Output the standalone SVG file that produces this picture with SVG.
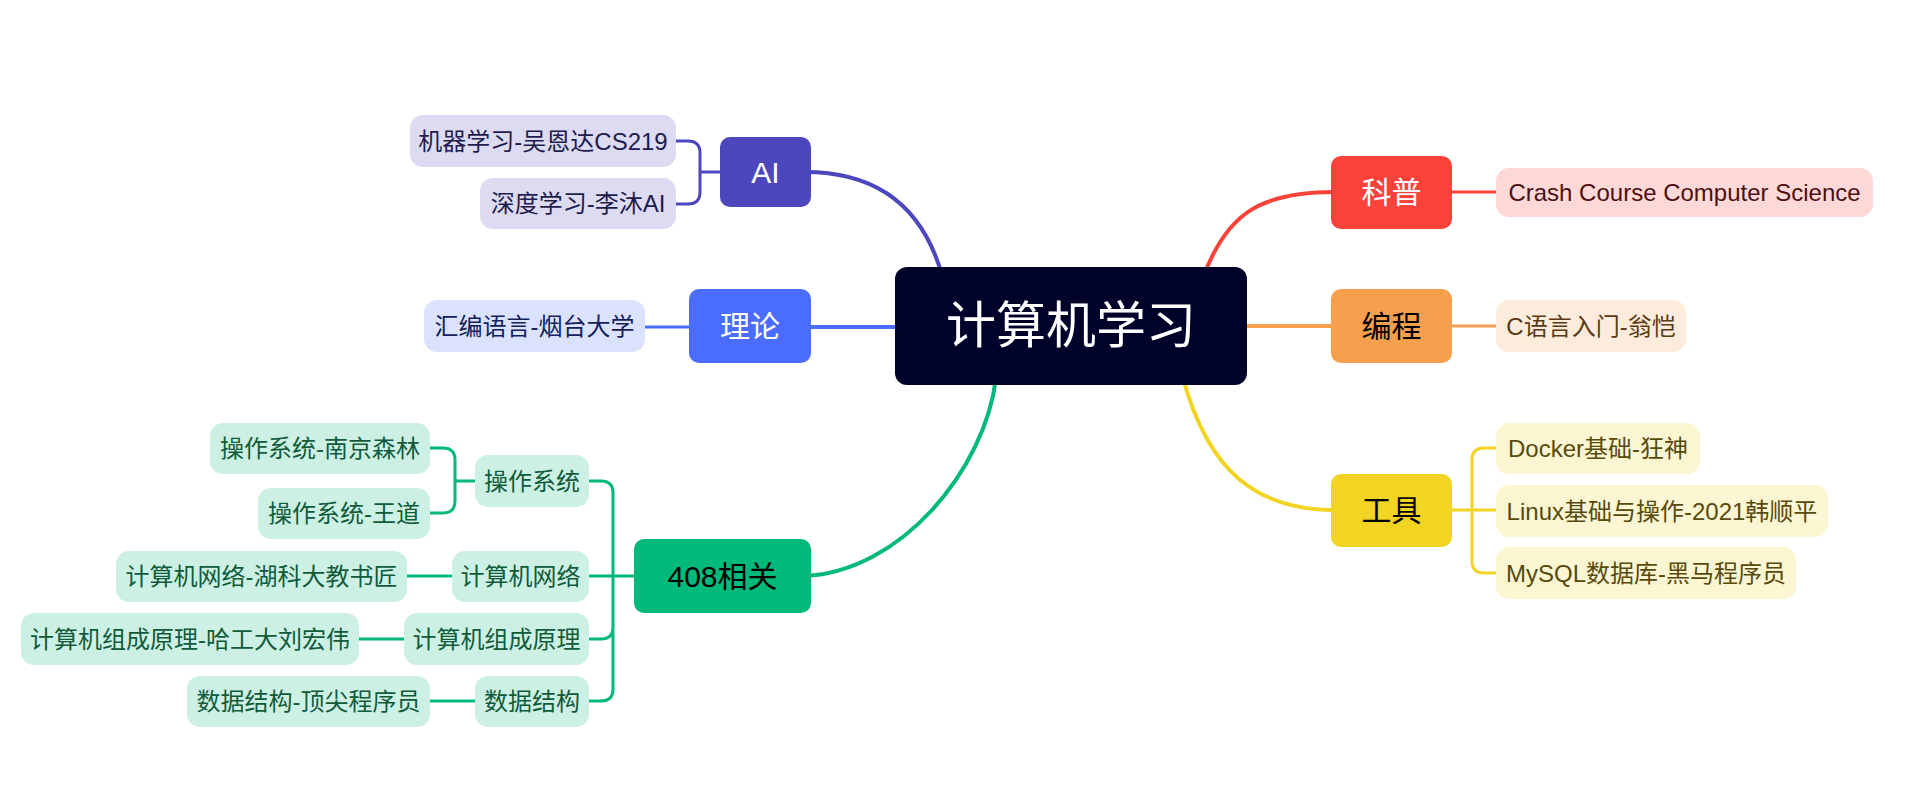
<svg xmlns="http://www.w3.org/2000/svg" width="1931" height="792" viewBox="0 0 1931 792">
<style>
text{font-family:"Liberation Sans","Noto Sans CJK SC",sans-serif;text-anchor:middle;dominant-baseline:central}
.main{font-size:30px}
.sub{font-size:24px}
.c{fill:none;stroke-width:4;stroke-linecap:round}
.s{fill:none;stroke-width:3}
</style>
<rect width="1931" height="792" fill="#ffffff"/>
<g id="connectors">
<path class="c" stroke="#4D47BE" d="M805,172 C875,172 922,205 942,275"/>
<path class="c" stroke="#4A6CFF" d="M805,327 H900"/>
<path class="c" stroke="#F9423A" d="M1204,275 C1228,212 1262,192 1335,192"/>
<path class="c" stroke="#F6A04D" d="M1240,326 H1335"/>
<path class="c" stroke="#F2D422" d="M1183,378 C1208,470 1255,510 1335,510"/>
<path class="c" stroke="#00B97A" d="M805,576 C900,572 985,470 996,378"/>
<path class="s" stroke="#4D47BE" d="M676,141 H688 Q700,141 700,153 V192 Q700,204 688,204 H676 M700,172 H720"/>
<path class="s" stroke="#4A6CFF" d="M645,327 H689"/>
<path class="s" stroke="#F9423A" d="M1452,192 H1496"/>
<path class="s" stroke="#F6A04D" d="M1452,326 H1496"/>
<path class="s" stroke="#F2D422" d="M1496,448 H1484 Q1472,448 1472,460 V561 Q1472,573 1484,573 H1496 M1452,510 H1496"/>
<path class="s" stroke="#00B97A" d="M589,481 H601 Q613,481 613,493 V689 Q613,701 601,701 H589 M589,639 H601 Q613,639 613,627 M589,576 H634"/>
<path class="s" stroke="#00B97A" d="M430,448 H443 Q455,448 455,460 V501 Q455,513 443,513 H430 M455,481 H475"/>
<path class="s" stroke="#00B97A" d="M407,576 H452 M359,639 H404 M430,701 H475"/>
</g>
<g id="root"><rect x="895" y="267" width="352" height="118" rx="12" fill="#00022A"/><text x="1071" y="326" font-size="50" fill="#ffffff">计算机学习</text></g>
<g id="ai"><rect x="720" y="137" width="91" height="70" rx="10" fill="#4D47BE"/><text class="main" x="765.5" y="172" fill="#ffffff">AI</text></g>
<g id="ai-1"><rect x="410" y="115" width="266" height="52" rx="13" fill="#DCDBF1"/><text class="sub" x="543" y="141" fill="#1E1C4E">机器学习-吴恩达CS219</text></g>
<g id="ai-2"><rect x="480" y="178" width="196" height="51" rx="13" fill="#DCDBF1"/><text class="sub" x="578" y="203.5" fill="#1E1C4E">深度学习-李沐AI</text></g>
<g id="theory"><rect x="689" y="289" width="122" height="74" rx="10" fill="#4A6CFF"/><text class="main" x="750" y="326" fill="#ffffff">理论</text></g>
<g id="theory-1"><rect x="424" y="300" width="221" height="52" rx="13" fill="#DBE2FE"/><text class="sub" x="534.5" y="326" fill="#14215A">汇编语言-烟台大学</text></g>
<g id="kepu"><rect x="1331" y="156" width="121" height="73" rx="10" fill="#F9423A"/><text class="main" x="1391.5" y="192.5" fill="#ffffff">科普</text></g>
<g id="kepu-1"><rect x="1496" y="168" width="377" height="49" rx="13" fill="#FED9D8"/><text class="sub" x="1684.5" y="192.5" fill="#4E0F12">Crash Course Computer Science</text></g>
<g id="biancheng"><rect x="1331" y="289" width="121" height="74" rx="10" fill="#F6A04D"/><text class="main" x="1391.5" y="326" fill="#000000">编程</text></g>
<g id="biancheng-1"><rect x="1496" y="300" width="190" height="52" rx="13" fill="#FDECDB"/><text class="sub" x="1591" y="326" fill="#5A3A14">C语言入门-翁恺</text></g>
<g id="tools"><rect x="1331" y="474" width="121" height="73" rx="10" fill="#F2D422"/><text class="main" x="1391.5" y="510.5" fill="#000000">工具</text></g>
<g id="tools-1"><rect x="1496" y="423" width="204" height="51" rx="13" fill="#FCF6D3"/><text class="sub" x="1598" y="448.5" fill="#584A0C">Docker基础-狂神</text></g>
<g id="tools-2"><rect x="1496" y="485" width="332" height="52" rx="13" fill="#FCF6D3"/><text class="sub" x="1662" y="511" fill="#584A0C">Linux基础与操作-2021韩顺平</text></g>
<g id="tools-3"><rect x="1496" y="547" width="300" height="52" rx="13" fill="#FCF6D3"/><text class="sub" x="1646" y="573" fill="#584A0C">MySQL数据库-黑马程序员</text></g>
<g id="n408"><rect x="634" y="539" width="177" height="74" rx="10" fill="#00B97A"/><text class="main" x="722.5" y="576" fill="#000000">408相关</text></g>
<g id="os"><rect x="475" y="455" width="114" height="52" rx="13" fill="#CCF1E4"/><text class="sub" x="532" y="481" fill="#115A3A">操作系统</text></g>
<g id="net"><rect x="452" y="551" width="137" height="51" rx="13" fill="#CCF1E4"/><text class="sub" x="520.5" y="576.5" fill="#115A3A">计算机网络</text></g>
<g id="coa"><rect x="404" y="613" width="185" height="52" rx="13" fill="#CCF1E4"/><text class="sub" x="496.5" y="639" fill="#115A3A">计算机组成原理</text></g>
<g id="ds"><rect x="475" y="676" width="114" height="51" rx="13" fill="#CCF1E4"/><text class="sub" x="532" y="701.5" fill="#115A3A">数据结构</text></g>
<g id="os-1"><rect x="210" y="423" width="220" height="51" rx="13" fill="#CCF1E4"/><text class="sub" x="320" y="448.5" fill="#115A3A">操作系统-南京森林</text></g>
<g id="os-2"><rect x="258" y="488" width="172" height="51" rx="13" fill="#CCF1E4"/><text class="sub" x="344" y="513.5" fill="#115A3A">操作系统-王道</text></g>
<g id="net-1"><rect x="116" y="551" width="291" height="51" rx="13" fill="#CCF1E4"/><text class="sub" x="261.5" y="576.5" fill="#115A3A">计算机网络-湖科大教书匠</text></g>
<g id="coa-1"><rect x="21" y="613" width="338" height="52" rx="13" fill="#CCF1E4"/><text class="sub" x="190" y="639" fill="#115A3A">计算机组成原理-哈工大刘宏伟</text></g>
<g id="ds-1"><rect x="187" y="676" width="243" height="51" rx="13" fill="#CCF1E4"/><text class="sub" x="308.5" y="701.5" fill="#115A3A">数据结构-顶尖程序员</text></g>
</svg>
